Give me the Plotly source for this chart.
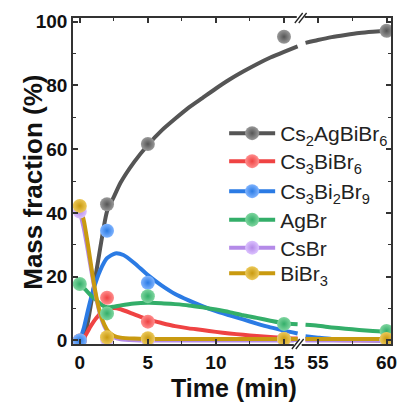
import plotly.graph_objects as go

# ---------------- data ----------------
t_pts = [0, 2, 5, 15, 60]
names = ["Cs<sub>2</sub>AgBiBr<sub>6</sub>", "Cs<sub>3</sub>BiBr<sub>6</sub>",
         "Cs<sub>3</sub>Bi<sub>2</sub>Br<sub>9</sub>", "AgBr", "CsBr", "BiBr<sub>3</sub>"]

pts_gray = [0, 42.7, 61.6, 95.2, 97.1]
pts_red = [0, 13.4, 5.9, 0.5, 0.3]
pts_blue = [0, 34.4, 18.1, 0.5, 0.2]
pts_green = [17.7, 8.5, 13.9, 5.2, 3.0]
pts_purple = [40.4, 0.3, 0.2, 0.2, 0.2]
pts_gold = [42.2, 1.0, 0.7, 0.5, 0.5]

# fitted curves
gray_t = [0.3, 0.6, 1.0, 1.5, 2.0, 2.5, 3.0, 4.0, 5.0, 6.0, 7.0, 8.0, 9.0, 10.0, 11.0, 12.0, 13.0, 14.0, 15.0, 16.0,
          54.1, 55, 56, 57, 58, 59, 60]
gray_y = [0, 6, 16, 29, 40.5, 45, 49.5, 56, 61.3, 65.8, 69.5, 73, 76, 79, 81.8, 84.3, 86.6, 88.7, 90.5, 92.2,
          93.3, 94.2, 95.1, 95.8, 96.4, 96.8, 97.1]

red_t = [0.15, 0.4, 0.8, 1.2, 1.6, 2.0, 2.5, 3.0, 4.0, 5.0, 6.0, 7.0, 8.0, 9.0, 10.0, 11.0, 12.0, 13.0, 14.0, 15.0, 16.0,
         54.1, 57, 60]
red_y = [0, 1.5, 4.5, 7, 8.8, 9.8, 10.2, 9.8, 8.2, 6.6, 5.5, 4.5, 3.8, 3.3, 2.7, 2.2, 1.8, 1.4, 1.1, 0.8, 0.6,
         0.3, 0.1, 0]

blue_t = [0, 0.3, 0.6, 1.0, 1.5, 2.0, 2.6, 3.2, 4.0, 5.0, 6.0, 7.0, 8.0, 9.0, 10.0, 11.0, 12.0, 13.0, 14.0, 15.0, 16.0,
          54.1, 55, 56, 57, 58, 60]
blue_y = [0, 4, 9.5, 16, 22, 25.8, 27.3, 26.8, 24.3, 20.5, 17.3, 14.6, 12.6, 10.8, 9.2, 7.9, 6.6, 5.3, 4.1, 3.1, 2.2,
          1.3, 0.9, 0.5, 0.3, 0.15, 0]

green_t = [0, 0.4, 0.8, 1.2, 1.6, 2.0, 2.5, 3.0, 4.0, 5.0, 6.0, 7.0, 8.0, 9.0, 10.0, 11.0, 12.0, 13.0, 14.0, 15.0, 16.0,
           54.1, 55, 56, 57, 58, 59, 60]
green_y = [17.7, 16, 14.2, 12.7, 11.2, 10.4, 10.6, 11, 11.6, 11.8, 11.7, 11.4, 11, 10.4, 9.7, 8.9, 7.9, 7.1, 6.2, 5.4, 5.1,
           4.9, 4.6, 4.1, 3.7, 3.3, 3.0, 2.8]

purple_t = [0, 0.3, 0.6, 0.9, 1.2, 1.5, 1.8, 2.1, 2.5, 3.0, 4.0, 5.0, 16.0, 54.1, 60]
purple_y = [40.4, 35, 28, 20.5, 13.5, 8, 4.5, 2.3, 1, 0.4, 0.1, 0, 0, 0, 0]

gold_t = [0, 0.3, 0.6, 0.9, 1.2, 1.5, 1.8, 2.1, 2.5, 3.0, 4.0, 5.0, 8.0, 12.0, 16.0, 54.1, 60]
gold_y = [42.2, 37.5, 30, 21.5, 14, 8.5, 5, 2.8, 1.5, 0.9, 0.6, 0.5, 0.5, 0.5, 0.5, 0.5, 0.5]

# ---------------- styling ----------------
colors = ["#555555", "#ef4343", "#2b7be4", "#33ae69", "#b48ae8", "#c99a10"]
lights = ["#9a9a9a", "#ff8e8e", "#80b4ff", "#80d6a0", "#dcc2ff", "#ecc95a"]

curves = [(gray_t, gray_y), (red_t, red_y), (blue_t, blue_y),
          (green_t, green_y), (purple_t, purple_y), (gold_t, gold_y)]
points = [pts_gray, pts_red, pts_blue, pts_green, pts_purple, pts_gold]

BREAK = 16.3  # break between the two x segments
W, H = 404, 403
ML, MR, MT, MB = 73, 7, 18, 59
PW, PH = W - ML - MR, H - MT - MB
xdom = (306 - ML) / PW
FAM = "Liberation Sans, Arial, sans-serif"
legend_rows = [133.5, 161.5, 191.5, 220, 248, 273.5]  # pixel row centres

fig = go.Figure()


def split(ts, ys):
    a = [(t, y) for t, y in zip(ts, ys) if t <= BREAK]
    b = [(t, y) for t, y in zip(ts, ys) if t > BREAK]
    return a, b


def marker(i):
    return dict(size=14, color=lights[i], gradient=dict(type="radial", color=colors[i]),
                line=dict(width=0))


# curves
for i, (ct, cy) in enumerate(curves):
    a, b = split(ct, cy)
    for seg, xa, ya in ((a, "x", "y"), (b, "x2", "y2")):
        if seg:
            fig.add_trace(go.Scatter(
                x=[p[0] for p in seg], y=[p[1] for p in seg], mode="lines",
                line=dict(color=colors[i], width=4, shape="spline", smoothing=0.6),
                xaxis=xa, yaxis=ya, showlegend=False, hoverinfo="skip"))

# points
for i, py in enumerate(points):
    a, b = split(t_pts, py)
    for seg, xa, ya in ((a, "x", "y"), (b, "x2", "y2")):
        if seg:
            fig.add_trace(go.Scatter(
                x=[p[0] for p in seg], y=[p[1] for p in seg], mode="markers",
                marker=marker(i), xaxis=xa, yaxis=ya, showlegend=False))

# legend entries (one small legend per row so the row spacing matches)
legend_layouts = {}
for i, nm in enumerate(names):
    lname = "legend" if i == 0 else f"legend{i + 1}"
    fig.add_trace(go.Scatter(
        x=[None], y=[None], mode="lines+markers", name=nm, legend=lname,
        line=dict(color=colors[i], width=4), marker=marker(i),
        xaxis="x", yaxis="y"))
    legend_layouts[lname] = dict(
        x=(227 - ML) / PW, y=(MT + PH - legend_rows[i]) / PH, xanchor="left", yanchor="middle",
        bgcolor="rgba(0,0,0,0)", font=dict(size=21, color="#222"), itemwidth=46)

axis_font = dict(family=FAM, size=19, color="#111", weight="bold")
minor = dict(ticklen=3, tickwidth=1, ticks="inside", tickcolor="#333")
common = dict(showline=True, linecolor="#333", linewidth=1.5, ticks="inside",
              ticklen=5, tickwidth=1.5, tickcolor="#333", showgrid=False,
              zeroline=False)

fig.update_layout(
    width=W, height=H, margin=dict(l=ML, r=MR, t=MT, b=MB),
    paper_bgcolor="white", plot_bgcolor="white",
    font=dict(family=FAM),
    xaxis=dict(domain=[0, xdom], range=[-0.5, BREAK], anchor="y", dtick=5, tick0=0,
               mirror="ticks", minor=dict(dtick=2.5, **minor), tickfont=axis_font, **common),
    xaxis2=dict(domain=[xdom, 1], range=[53.82, 60.32], anchor="y2", dtick=5, tick0=0,
                mirror="ticks", minor=dict(dtick=2.5, **minor), tickfont=axis_font, **common),
    yaxis=dict(domain=[0, 1], range=[-1.1, 101.1], anchor="x", dtick=20,
               minor=dict(dtick=10, **minor), tickfont=axis_font, **common),
    yaxis2=dict(domain=[0, 1], matches="y", anchor="x2", side="right", showticklabels=False,
                minor=dict(dtick=10, **minor), **common),
    showlegend=True,
    **legend_layouts,
)

fig.add_annotation(text="Time (min)", xref="paper", yref="paper",
                   x=(237 - ML) / PW, y=(MT + PH - 388) / PH, showarrow=False,
                   font=dict(size=25, color="#111", weight="bold"),
                   xanchor="center", yanchor="middle")
fig.add_annotation(text="Mass fraction (%)", xref="paper", yref="paper",
                   x=(32 - ML) / PW, y=(MT + PH - 182) / PH, showarrow=False, textangle=-90,
                   font=dict(size=26, color="#111", weight="bold"),
                   xanchor="center", yanchor="middle")


def P(px, py):
    return (px - ML) / PW, (MT + PH - py) / PH


shapes = []
for cx, cy in ((302, 344), (305, 18)):
    x0, y0 = P(cx - 4, cy)
    x1, y1 = P(cx + 4, cy)
    shapes.append(dict(type="line", xref="paper", yref="paper", x0=x0, y0=y0, x1=x1, y1=y1,
                       line=dict(color="white", width=4)))
    for dx in (-2, 2):
        a0, b0 = P(cx + dx - 4, cy + 5)
        a1, b1 = P(cx + dx + 4, cy - 5)
        shapes.append(dict(type="line", xref="paper", yref="paper", x0=a0, y0=b0, x1=a1, y1=b1,
                           line=dict(color="#222", width=1.3)))
fig.update_layout(shapes=shapes)

fig.write_html("out.html")
